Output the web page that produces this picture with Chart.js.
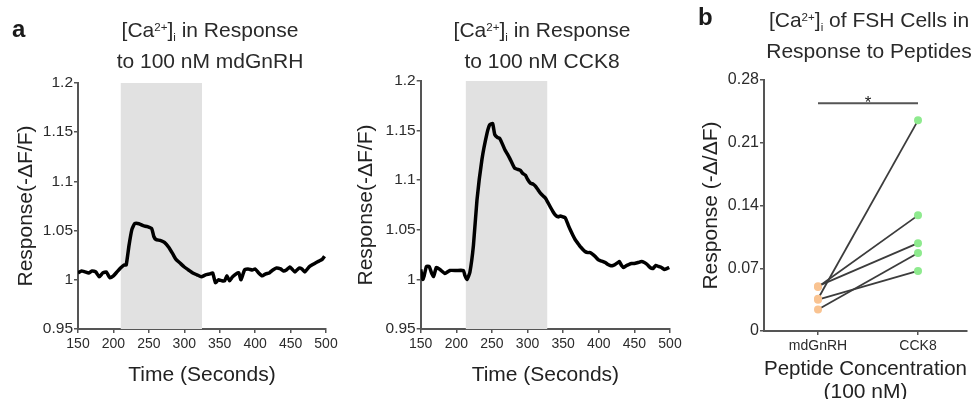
<!DOCTYPE html>
<html>
<head>
<meta charset="utf-8">
<script src="https://cdn.jsdelivr.net/npm/chart.js@4/dist/chart.umd.min.js"></script>
<style>
  body { margin: 0; background: #fff; overflow: hidden; }
  #wrap { position: relative; width: 975px; height: 399px; overflow: hidden;
          font-family: 'Liberation Sans', Arial, sans-serif; color: #2a2a2a; }
  canvas { position: absolute; top: 0; }
  .ttl { position: absolute; text-align: center; font-size: 21px; line-height: 28px; white-space: nowrap; }
  .ttl .sp { position: relative; top: -0.5em; font-size: 0.55em; }
  .ttl .sb { position: relative; top: 0.35em; font-size: 0.55em; }
  .pl { position: absolute; font-size: 24px; font-weight: bold; line-height: 24px; color: #1a1a1a; }
</style>
</head>
<body>
<div id="wrap">
  <canvas id="c1" width="345" height="399" style="left:0"></canvas>
  <canvas id="c2" width="350" height="399" style="left:340px"></canvas>
  <canvas id="c3" width="285" height="410" style="left:690px"></canvas>

  <div class="pl" style="left:12px; top:17px">a</div>
  <div class="pl" style="left:698px; top:5px">b</div>
  <div class="ttl" style="left:60px; top:16px; width:300px">[Ca<span class="sp">2+</span>]<span class="sb">i</span> in Response<br>to 100 nM mdGnRH</div>
  <div class="ttl" style="left:392px; top:16px; width:300px">[Ca<span class="sp">2+</span>]<span class="sb">i</span> in Response<br>to 100 nM CCK8</div>
  <div class="ttl" style="left:739px; top:6px; width:260px">[Ca<span class="sp">2+</span>]<span class="sb">i</span> of FSH Cells in<br>Response to Peptides</div>
</div>
<script>
// panel a, left trace: 100 nM mdGnRH
const timeGnrh = [150,155,160,165,170,175,180,185,190,195,200,205,210,215,218,222,226,230,236,242,248,254,257,260,266,272,278,284,288,294,300,306,312,318,324,330,336,340,344,348,353,357,360,364,368,373,377,380,385,390,396,400,405,410,415,420,425,430,436,440,444,449,452,456,462,466,470,476,480,485,490,495,498];
const respGnrh = [1.007,1.009,1.008,1.007,1.009,1.008,1.003,1.007,1.008,1.002,1.004,1.008,1.012,1.015,1.015,1.035,1.051,1.057,1.057,1.055,1.054,1.052,1.044,1.041,1.040,1.038,1.033,1.026,1.021,1.017,1.013,1.010,1.007,1.005,1.003,1.005,1.006,1.007,0.997,1.000,0.999,0.999,1.004,0.999,1.003,1.006,1.007,1.000,1.010,1.011,1.010,1.011,1.007,1.004,1.006,1.007,1.010,1.012,1.011,1.009,1.010,1.013,1.011,1.008,1.012,1.011,1.008,1.013,1.015,1.017,1.019,1.021,1.024];
const stimGnrh = [210, 325];

// panel a, right trace: 100 nM CCK8
const timeCck = [150,153,155,158,162,165,168,172,177,184,191,200,210,212,215,219,224,229,236,243,247,251,254,258,261,265,268,272,275,279,282,286,290,293,297,300,304,308,311,315,318,322,325,329,332,336,339,343,346,350,353,357,360,364,367,371,374,378,381,385,388,392,395,399,402,406,409,413,416,420,423,427,429,432,435,439,442,446,450,455,460,464,468,472,476,480,484,488,492,496,499];
const respCck = [1.010,1.000,1.004,1.013,1.013,1.007,1.003,1.012,1.010,1.006,1.009,1.009,1.009,1.004,1.000,1.007,1.034,1.080,1.121,1.147,1.156,1.157,1.146,1.143,1.142,1.136,1.131,1.126,1.122,1.116,1.112,1.111,1.110,1.107,1.105,1.101,1.097,1.096,1.094,1.090,1.087,1.084,1.082,1.077,1.073,1.068,1.065,1.063,1.064,1.063,1.062,1.055,1.050,1.044,1.040,1.036,1.033,1.030,1.028,1.027,1.027,1.025,1.023,1.020,1.019,1.018,1.017,1.015,1.014,1.014,1.015,1.017,1.018,1.014,1.012,1.014,1.015,1.016,1.016,1.017,1.018,1.017,1.015,1.012,1.011,1.014,1.013,1.012,1.010,1.011,1.012];
const stimCck = [213, 328];

const timeTicks = [150,200,250,300,350,400,450,500];
const respTicks = [0.95,1,1.05,1.1,1.15,1.2];

// panel b: paired responses per cell
const peptides = ['mdGnRH', 'CCK8'];
const pairGnrh = [0.036, 0.049, 0.050, 0.024, 0.035];
const pairCck  = [0.235, 0.129, 0.098, 0.087, 0.067];
const pairTicks = [0, 0.07, 0.14, 0.21, 0.28];
const sigSpan = [0, 1];
const sigLevel = 0.254;
const sigMark = '*';

Chart.defaults.font.family = "'Liberation Sans', Arial, sans-serif";
Chart.defaults.color = '#2b2b2b';

const axisGrid = { drawOnChartArea: false, tickLength: 4, color: '#555', lineWidth: 1.5 };
const axisBorder = { color: '#555', width: 2 };
const plainNum = v => String(+v.toFixed(2));

function traceChart(id, times, values, stim, pad, yWidth, xHeight) {
  return new Chart(document.getElementById(id), {
    type: 'line',
    data: {
      datasets: [
        {
          data: times.map((t, i) => ({ x: t, y: values[i] })),
          borderColor: '#000', borderWidth: 3.5, pointRadius: 0, tension: 0.15, order: 1
        },
        {
          data: stim.map(t => ({ x: t, y: respTicks[respTicks.length - 1] })),
          fill: 'start', backgroundColor: '#e1e1e1', borderWidth: 0, pointRadius: 0, order: 2
        }
      ]
    },
    options: {
      responsive: false,
      animation: false,
      layout: { padding: pad },
      plugins: { legend: { display: false }, tooltip: { enabled: false } },
      scales: {
        x: {
          type: 'linear', min: timeTicks[0], max: timeTicks[timeTicks.length - 1],
          afterBuildTicks: s => { s.ticks = timeTicks.map(v => ({ value: v })); },
          afterFit: s => { s.height = xHeight; },
          grid: axisGrid, border: axisBorder,
          ticks: { font: { size: 14 }, padding: 3, maxRotation: 0, autoSkip: false, callback: plainNum },
          title: { display: true, text: 'Time (Seconds)', color: '#222', font: { size: 21 }, padding: { top: 0, bottom: 4 } }
        },
        y: {
          min: respTicks[0], max: respTicks[respTicks.length - 1],
          afterBuildTicks: s => { s.ticks = respTicks.map(v => ({ value: v })); },
          afterFit: s => { s.width = yWidth; },
          grid: axisGrid, border: axisBorder,
          ticks: { font: { size: 15.5 }, padding: 1, autoSkip: false, callback: plainNum },
          title: { display: true, text: 'Response(-ΔF/F)', color: '#222', font: { size: 21 }, padding: { top: 4, bottom: 0 } }
        }
      }
    }
  });
}

traceChart('c1', timeGnrh, respGnrh, stimGnrh, { left: 10, top: 83, right: 19, bottom: 7 }, 68, 63);
traceChart('c2', timeCck, respCck, stimCck, { left: 10, top: 81, right: 20, bottom: 7 }, 70.7, 63);

// star above the comparison bar
const sigPlugin = {
  id: 'sig',
  afterDatasetsDraw(chart) {
    const { ctx, scales: { x, y } } = chart;
    ctx.save();
    ctx.font = "17px 'Liberation Sans', Arial, sans-serif";
    ctx.fillStyle = '#222';
    ctx.textAlign = 'center';
    ctx.fillText(sigMark, x.getPixelForValue((sigSpan[0] + sigSpan[1]) / 2), y.getPixelForValue(sigLevel) + 5);
    ctx.restore();
  }
};

const pairSets = pairGnrh.map((v, i) => ({
  data: [{ x: 0, y: v }, { x: 1, y: pairCck[i] }],
  borderColor: '#3c3c3c', borderWidth: 1.8,
  pointRadius: 4, pointBorderWidth: 0,
  pointBackgroundColor: ['#f9c391', '#8eea8e']
}));
pairSets.push({
  data: sigSpan.map(v => ({ x: v, y: sigLevel })),
  borderColor: '#555', borderWidth: 2, pointRadius: 0
});

new Chart(document.getElementById('c3'), {
  type: 'line',
  data: { datasets: pairSets },
  options: {
    responsive: false,
    animation: false,
    layout: { padding: { left: 5, top: 80, right: 8, bottom: 2 } },
    plugins: { legend: { display: false }, tooltip: { enabled: false } },
    scales: {
      x: {
        type: 'linear', min: -0.54, max: 1.49,
        afterBuildTicks: s => { s.ticks = peptides.map((p, i) => ({ value: i })); },
        afterFit: s => { s.height = 77; },
        grid: axisGrid, border: axisBorder,
        ticks: { font: { size: 14 }, padding: 3, maxRotation: 0, autoSkip: false, callback: v => peptides[v] },
        title: { display: true, text: ['Peptide Concentration', '(100 nM)'], color: '#222', font: { size: 21, lineHeight: 1.1 }, padding: { top: 0, bottom: 4 } }
      },
      y: {
        min: pairTicks[0], max: pairTicks[pairTicks.length - 1],
        afterBuildTicks: s => { s.ticks = pairTicks.map(v => ({ value: v })); },
        afterFit: s => { s.width = 69; },
        grid: axisGrid, border: axisBorder,
        ticks: { font: { size: 16 }, padding: 1, autoSkip: false, callback: plainNum },
        title: { display: true, text: 'Response (-Δ/ΔF)', color: '#222', font: { size: 21 }, padding: { top: 4, bottom: 0 } }
      }
    }
  },
  plugins: [sigPlugin]
});
</script>
</body>
</html>
